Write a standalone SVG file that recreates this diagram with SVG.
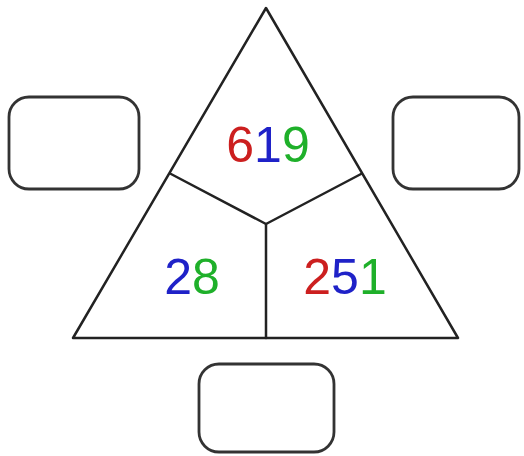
<svg xmlns="http://www.w3.org/2000/svg" width="524" height="456" viewBox="0 0 524 456">
<style>
.ln{fill:none;stroke:#222;stroke-width:2.5;stroke-linejoin:round;stroke-linecap:round}
.box{fill:#fff;stroke:#333;stroke-width:2.8}
.num{font-family:"Comic Sans MS","Liberation Sans",sans-serif;font-size:50px;text-anchor:middle}
.r{fill:#cc1f1f}.b{fill:#1f22c8}.g{fill:#1fb02a}
</style>
<rect width="524" height="456" fill="#fff"/>
<g id="triangle">
<path class="ln" d="M266,8 L458,338 L73,338 Z"/>
</g>
<g id="connectors">
<path class="ln" d="M171,174 L266,224 L361,174"/>
<path class="ln" d="M266,224 L266,338"/>
</g>
<g id="top">
<text class="num" x="268" y="162"><tspan class="r">6</tspan><tspan class="b">1</tspan><tspan class="g">9</tspan></text>
</g>
<g id="left">
<text class="num" x="192" y="294"><tspan class="b">2</tspan><tspan class="g">8</tspan></text>
</g>
<g id="right">
<text class="num" x="345" y="294"><tspan class="r">2</tspan><tspan class="b">5</tspan><tspan class="g">1</tspan></text>
</g>
<g id="box-left"><rect class="box" x="9" y="97" width="130" height="92" rx="20"/></g>
<g id="box-right"><rect class="box" x="393" y="97" width="126" height="92" rx="20"/></g>
<g id="box-bottom"><rect class="box" x="199" y="364" width="135" height="88" rx="20"/></g>
</svg>
